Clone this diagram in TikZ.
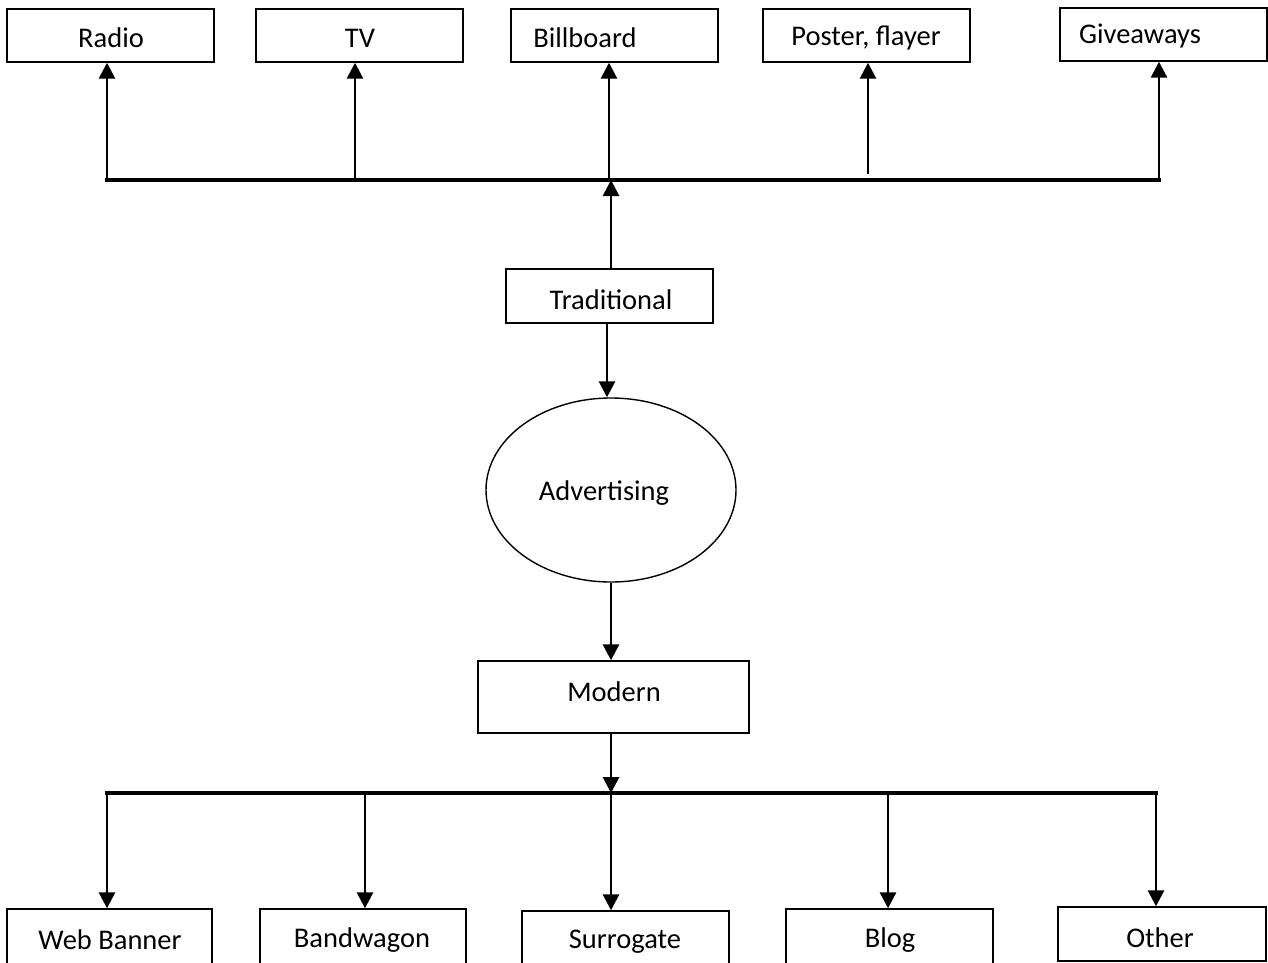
\documentclass[tikz,border=0pt]{standalone}
\usepackage{fontspec}
\setmainfont{Carlito}
\usetikzlibrary{arrows.meta,shapes.geometric}
\begin{document}
\begin{tikzpicture}[x=1pt,y=-1pt,
  box/.style={draw,line width=1.4pt,inner sep=0pt,fill=white},
  lbl/.style={inner sep=0pt,font=\fontsize{28.5}{34}\selectfont},
  conn/.style={line width=2.8pt,-{Triangle[length=16pt,width=16pt]}},
  bus/.style={line width=3.4pt,line cap=rect}]
\useasboundingbox (0,0) rectangle (1268,962);
\clip (0,0) rectangle (1268,962);
% top boxes
\node[box,minimum width=207pt,minimum height=53pt] (radio) at (110.5,35.5) {};
\node[box,minimum width=207pt,minimum height=53pt] (tv) at (359.5,35.5) {};
\node[box,minimum width=207pt,minimum height=53pt] (bill) at (614.5,35.5) {};
\node[box,minimum width=207pt,minimum height=53pt] (post) at (866.5,35.5) {};
\node[box,minimum width=207pt,minimum height=53pt] (give) at (1163.5,34.5) {};
\node[lbl] (radio-t) at (111,38) {Radio};
\node[lbl] (tv-t) at (360,38) {TV};
\node[lbl] (bill-t) at (585,38) {Billboard};
\node[lbl] (post-t) at (866,38) {Poster, flayer};
\node[lbl] (give-t) at (1140,36) {Giveaways};
% middle
\node[box,minimum width=207pt,minimum height=54pt] (trad) at (609.5,296) {};
\node[lbl] (trad-t) at (611,300) {Traditional};
\node[draw,ellipse,line width=1.4pt,minimum width=250pt,minimum height=184pt,inner sep=0pt] (adv) at (611,490) {};
\node[lbl] (adv-t) at (604,493) {Advertising};
\node[box,minimum width=271pt,minimum height=72pt] (mod) at (613.5,697) {};
\node[lbl] (mod-t) at (614,692) {Modern};
% bottom boxes
\node[box,minimum width=205pt,minimum height=60pt] (web) at (109.5,939) {};
\node[box,minimum width=206pt,minimum height=60pt] (band) at (363,939) {};
\node[box,minimum width=207pt,minimum height=60pt] (surr) at (625.5,941) {};
\node[box,minimum width=207pt,minimum height=60pt] (blog) at (889.5,939) {};
\node[box,minimum width=208pt,minimum height=54pt] (oth) at (1162,934) {};
\node[lbl] (web-t) at (110,940) {Web Banner};
\node[lbl] (band-t) at (362,940) {Bandwagon};
\node[lbl] (surr-t) at (625,942) {Surrogate};
\node[lbl] (blog-t) at (890,940) {Blog};
\node[lbl] (oth-t) at (1160,938) {Other};
% top bus
\coordinate (t1) at (107,180);
\coordinate (t2) at (355,180);
\coordinate (t3) at (609,180);
\coordinate (tc) at (611,180);
\coordinate (t4s) at (868,174);
\coordinate (t5) at (1159,180);
\draw[bus] (t1) -- (t5);
\draw[conn] (t1) -- (t1 |- radio.south);
\draw[conn] (t2) -- (t2 |- tv.south);
\draw[conn] (t3) -- (t3 |- bill.south);
\draw[conn] (t4s) -- (t4s |- post.south);
\draw[conn] (t5) -- (t5 |- give.south);
\draw[conn] (tc |- trad.north) -- (tc);
% spine
\coordinate (s1) at (607,0);
\draw[conn] (s1 |- trad.south) -- (s1 |- adv.north);
\coordinate (s2) at (611,0);
\draw[conn] (s2 |- adv.south) -- (s2 |- mod.north);
% bottom bus
\coordinate (b1) at (107,793);
\coordinate (b2) at (365,793);
\coordinate (b3) at (611,793);
\coordinate (b4) at (888,793);
\coordinate (b5) at (1156,793);
\draw[conn] (s2 |- mod.south) -- (b3);
\draw[bus] (b1) -- (b5);
\draw[conn] (b1) -- (b1 |- web.north);
\draw[conn] (b2) -- (b2 |- band.north);
\draw[conn] (b3) -- (b3 |- surr.north);
\draw[conn] (b4) -- (b4 |- blog.north);
\draw[conn] (b5) -- (b5 |- oth.north);
\end{tikzpicture}
\end{document}
